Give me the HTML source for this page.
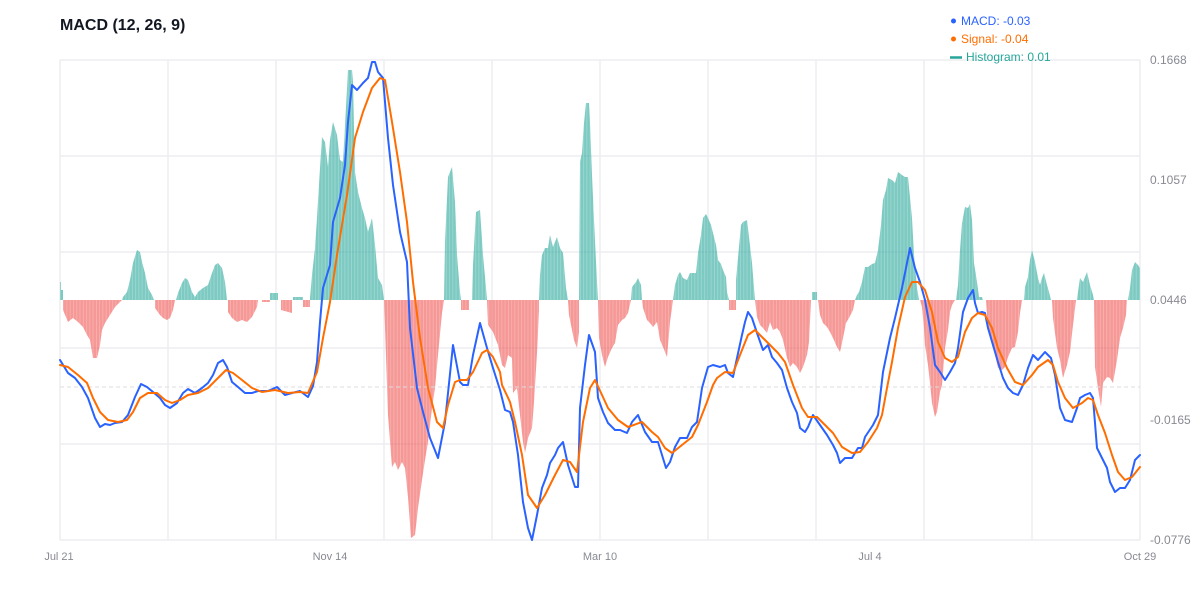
<!DOCTYPE html>
<html>
<head>
<meta charset="utf-8">
<style>
html,body{margin:0;padding:0;background:#fff;}
body{width:1200px;height:600px;overflow:hidden;font-family:"Liberation Sans",Arial,sans-serif;}
svg{display:block;}
</style>
</head>
<body>
<svg width="1200" height="600" viewBox="0 0 1200 600" xmlns="http://www.w3.org/2000/svg" xmlns:xlink="http://www.w3.org/1999/xlink">
<defs>
<pattern id="stripes" patternUnits="userSpaceOnUse" x="60" y="0" width="3.27" height="10">
<rect x="0" y="0" width="0.7" height="10" fill="#ffffff" fill-opacity="0.3"/>
</pattern>
<g id="hposShapes">
<polygon points="60,300 60,282 61,282 61,290 63,290 63,300"/>
<polygon points="122,300 123,297 127,292 130,280 133,263 137,250 140,252 142,262 145,273 148,288 152,295 154,300"/>
<polygon points="176,300 178,293 182,283 185,278 188,280 192,292 195,297 198,292 203,288 208,285 212,273 215,265 218,263 222,268 225,282 227,300"/>
<polygon points="270,300 270,293 278,293 278,300"/>
<polygon points="293,300 293,297 303,297 303,300"/>
<polygon points="310,300 310,298 312,275 315,248 317,218 320,168 322,137 325,142 328,167 330,140 333,122 337,135 340,160 343,162 346,107 348,70 352,70 353,82 355,172 358,192 362,208 365,218 368,232 372,218 375,245 378,278 382,285 384,300"/>
<polygon points="444,300 445,242 448,177 452,167 455,202 457,255 460,292 461,300"/>
<polygon points="472,300 473,265 476,212 480,210 483,255 486,288 487,300"/>
<polygon points="539,300 540,275 542,255 545,248 548,248 550,235 553,247 557,237 560,248 563,253 566,288 568,300"/>
<polygon points="579,300 580,162 582,153 584,123 586,103 589,103 590,123 592,175 594,220 597,282 598,300"/>
<polygon points="631,300 632,287 636,282 638,278 641,285 642,300"/>
<polygon points="673,300 675,285 678,275 680,272 683,278 687,280 690,273 693,273 696,273 698,253 701,235 703,218 706,214 708,218 711,225 713,233 716,245 718,260 721,264 723,270 726,277 727,292 729,300"/>
<polygon points="736,300 736,280 738,258 741,225 743,222 747,220 749,237 752,263 754,288 755,300"/>
<polygon points="812,300 812,292 817,292 817,300"/>
<polygon points="855,300 857,295 859,292 862,282 865,267 868,267 872,264 875,263 878,250 881,225 883,200 886,190 888,178 892,180 895,183 898,172 902,175 905,177 908,177 912,218 914,255 917,288 919,300"/>
<polygon points="956,300 958,285 960,250 962,223 965,207 968,208 970,204 972,220 974,263 977,282 979,297 982,297 983,300"/>
<polygon points="1024,300 1025,287 1028,277 1030,260 1032,250 1035,262 1038,278 1040,285 1042,278 1044,273 1047,285 1049,292 1051,300"/>
<polygon points="1077,300 1078,292 1080,278 1083,282 1087,272 1090,285 1093,295 1094,300"/>
<polygon points="1128,300 1130,288 1132,270 1135,262 1138,265 1140,268 1140,300"/>
</g>
<g id="hnegShapes">
<polygon points="63,300 63,310 68,322 73,318 78,322 83,327 87,335 90,340 93,358 97,358 100,345 102,330 105,323 110,315 115,307 120,302 122,300"/>
<polygon points="155,300 155,308 160,315 163,318 167,320 170,318 173,310 175,300"/>
<polygon points="228,300 228,312 232,318 237,322 242,320 247,322 252,317 257,307 258,300"/>
<polygon points="262,300 262,302 270,302 270,300"/>
<polygon points="281,300 281,310 292,313 292,300"/>
<polygon points="303,300 303,307 310,307 310,300"/>
<polygon points="384,300 385,327 388,415 392,467 395,462 398,470 402,462 405,468 408,497 411,538 415,535 418,508 422,480 425,460 428,442 432,408 435,388 438,355 442,313 444,300"/>
<polygon points="461,300 461,310 469,310 469,300"/>
<polygon points="487,300 488,325 493,332 498,345 502,365 505,368 508,355 512,358 513,393 517,388 520,415 523,442 525,453 528,438 532,428 534,402 537,353 539,310 539,300"/>
<polygon points="568,300 569,315 572,330 574,340 577,348 579,332 579,300"/>
<polygon points="598,300 599,338 602,355 605,367 608,357 612,348 615,343 618,325 622,320 625,318 628,313 631,300"/>
<polygon points="642,300 643,308 647,320 650,323 653,327 657,322 660,340 663,347 667,357 670,322 673,300"/>
<polygon points="729,300 729,310 736,310 736,300"/>
<polygon points="755,300 757,317 760,325 763,328 767,333 770,322 773,330 777,328 780,332 783,340 787,358 790,367 793,363 797,367 800,373 803,367 807,355 809,342 811,300"/>
<polygon points="818,300 820,315 823,323 827,327 830,332 833,338 837,347 840,352 843,338 846,323 849,318 853,310 855,300"/>
<polygon points="920,300 922,307 924,328 925,345 928,365 930,383 932,403 935,417 937,412 940,392 942,385 945,348 948,330 950,312 952,305 955,300"/>
<polygon points="986,300 988,330 992,345 995,355 998,368 1002,370 1005,367 1008,357 1012,348 1015,347 1018,332 1020,313 1022,300"/>
<polygon points="1052,300 1053,318 1057,348 1060,360 1063,378 1067,365 1070,352 1073,325 1076,300"/>
<polygon points="1094,300 1095,367 1098,388 1101,407 1103,383 1107,377 1110,378 1113,383 1117,360 1120,338 1123,328 1126,315 1127,300"/>
</g>
</defs>
<rect width="1200" height="600" fill="#fff"/>
<!-- grid -->
<g stroke="#ededf2" stroke-width="1.5" fill="none">
<line x1="60" y1="60" x2="1140" y2="60"/>
<line x1="60" y1="156" x2="1140" y2="156"/>
<line x1="60" y1="252" x2="1140" y2="252"/>
<line x1="60" y1="348" x2="1140" y2="348"/>
<line x1="60" y1="444" x2="1140" y2="444"/>
<line x1="60" y1="540" x2="1140" y2="540"/>
<line x1="60" y1="60" x2="60" y2="540"/>
<line x1="168" y1="60" x2="168" y2="540"/>
<line x1="276" y1="60" x2="276" y2="540"/>
<line x1="384" y1="60" x2="384" y2="540"/>
<line x1="492" y1="60" x2="492" y2="540"/>
<line x1="600" y1="60" x2="600" y2="540"/>
<line x1="708" y1="60" x2="708" y2="540"/>
<line x1="816" y1="60" x2="816" y2="540"/>
<line x1="924" y1="60" x2="924" y2="540"/>
<line x1="1032" y1="60" x2="1032" y2="540"/>
<line x1="1140" y1="60" x2="1140" y2="540"/>
</g>
<!-- histogram -->
<use href="#hposShapes" xlink:href="#hposShapes" fill="#26a69a" fill-opacity="0.6"/>
<use href="#hnegShapes" xlink:href="#hnegShapes" fill="#ef5350" fill-opacity="0.6"/>
<use href="#hposShapes" xlink:href="#hposShapes" fill="url(#stripes)"/>
<use href="#hnegShapes" xlink:href="#hnegShapes" fill="url(#stripes)"/>
<!-- zero dashed line -->
<line x1="60" y1="387" x2="1140" y2="387" stroke="#dcdde3" stroke-width="1" stroke-dasharray="4 3"/>
<!-- MACD line -->
<polyline fill="none" stroke="#2962ff" stroke-width="2" stroke-linejoin="round" stroke-linecap="round" points="60,360 68,373 75,378 82,387 88,398 95,418 100,427 105,424 110,425 115,423 122,422 128,415 135,397 141,384 147,387 153,392 160,398 165,405 170,408 177,403 183,393 188,389 195,393 202,388 208,383 213,375 218,363 223,360 227,367 232,382 238,387 245,393 252,393 258,391 268,391 277,387 285,395 292,393 300,391 308,397 313,386 317,362 320,322 323,288 330,265 333,222 340,198 345,165 348,122 352,85 357,90 363,83 368,78 372,62 375,62 378,72 383,78 388,138 393,185 400,232 407,262 410,328 417,388 423,412 430,438 438,458 445,422 453,345 460,382 463,385 468,385 473,355 480,323 487,348 493,368 500,390 505,410 510,412 513,422 518,455 523,502 528,528 532,540 537,515 542,488 547,475 550,463 555,455 558,448 563,442 568,465 575,487 578,487 580,408 585,365 589,335 595,352 598,398 603,412 608,423 615,430 620,430 627,433 632,422 638,415 645,432 652,442 658,442 662,455 666,468 670,462 675,447 680,438 687,438 692,427 697,422 702,388 708,367 713,365 720,367 725,365 728,373 733,377 737,358 742,335 745,322 748,312 752,318 757,333 763,350 768,345 772,357 777,363 782,370 787,388 792,402 797,413 800,428 805,432 808,427 813,415 820,425 827,435 833,445 837,453 840,463 845,458 852,458 858,448 862,448 865,437 873,425 878,415 883,372 890,338 895,318 902,288 910,248 915,268 920,282 925,300 930,328 935,365 940,372 945,380 950,372 955,363 958,348 963,312 968,298 973,290 975,303 978,313 982,312 985,313 988,328 993,345 998,362 1003,378 1008,388 1013,393 1018,395 1023,385 1028,368 1033,355 1038,360 1045,352 1051,358 1055,375 1060,408 1065,420 1072,422 1077,408 1080,398 1085,395 1090,393 1093,398 1097,448 1102,458 1107,468 1110,482 1115,492 1120,488 1125,488 1130,480 1135,460 1140,455"/>
<!-- Signal line -->
<polyline fill="none" stroke="#ff6d00" stroke-width="2" stroke-linejoin="round" stroke-linecap="round" points="60,365 68,367 78,375 87,383 93,398 100,412 108,420 118,422 127,420 133,412 140,398 148,393 157,393 165,400 172,403 180,400 188,395 198,393 208,388 218,378 226,370 233,373 242,380 252,388 262,392 275,390 288,393 300,392 308,393 317,372 323,338 330,302 337,255 347,195 355,138 363,112 372,88 380,78 385,80 392,122 400,172 407,222 413,282 420,338 428,388 437,422 443,428 448,405 455,382 460,380 467,380 473,372 482,353 487,350 493,357 500,372 502,385 510,402 515,422 522,455 528,495 537,508 545,495 555,475 563,460 570,462 577,472 583,422 590,388 595,380 602,395 608,408 618,420 628,427 642,422 652,432 658,437 665,448 672,453 682,445 692,437 698,425 707,402 713,385 717,378 725,372 733,373 740,355 748,335 755,330 763,338 770,345 778,353 785,362 793,385 802,408 808,417 817,417 825,425 833,433 842,447 852,453 860,452 868,442 877,428 882,415 887,388 892,362 898,328 905,297 912,282 918,282 925,290 932,312 938,342 945,358 952,362 958,357 965,332 972,318 978,313 985,315 992,328 998,348 1007,368 1015,382 1023,385 1032,375 1038,367 1048,360 1053,365 1058,382 1065,398 1073,408 1082,403 1088,398 1093,400 1098,415 1105,433 1112,455 1118,472 1125,480 1132,477 1140,467"/>
<!-- title -->
<text x="60" y="30" font-family="Liberation Sans, Arial, sans-serif" font-size="16" font-weight="bold" fill="#131722">MACD (12, 26, 9)</text>
<!-- legend -->
<g font-family="Liberation Sans, Arial, sans-serif" font-size="12">
<circle cx="953.5" cy="21" r="2.5" fill="#2962ff"/>
<text x="961" y="25" fill="#2962ff">MACD: -0.03</text>
<circle cx="953.5" cy="39" r="2.5" fill="#ff6d00"/>
<text x="961" y="43" fill="#ff6d00">Signal: -0.04</text>
<line x1="950" y1="57.5" x2="962" y2="57.5" stroke="#26a69a" stroke-width="2.5"/>
<text x="966" y="61" fill="#26a69a">Histogram: 0.01</text>
</g>
<!-- y axis labels -->
<g font-family="Liberation Sans, Arial, sans-serif" font-size="12" fill="#888a92">
<text x="1150" y="64">0.1668</text>
<text x="1150" y="184">0.1057</text>
<text x="1150" y="304">0.0446</text>
<text x="1150" y="424">-0.0165</text>
<text x="1150" y="544">-0.0776</text>
</g>
<!-- x axis labels -->
<g font-family="Liberation Sans, Arial, sans-serif" font-size="11" fill="#888a92" text-anchor="middle">
<text x="59" y="560">Jul 21</text>
<text x="330" y="560">Nov 14</text>
<text x="600" y="560">Mar 10</text>
<text x="870" y="560">Jul 4</text>
<text x="1140" y="560">Oct 29</text>
</g>
</svg>
</body>
</html>
